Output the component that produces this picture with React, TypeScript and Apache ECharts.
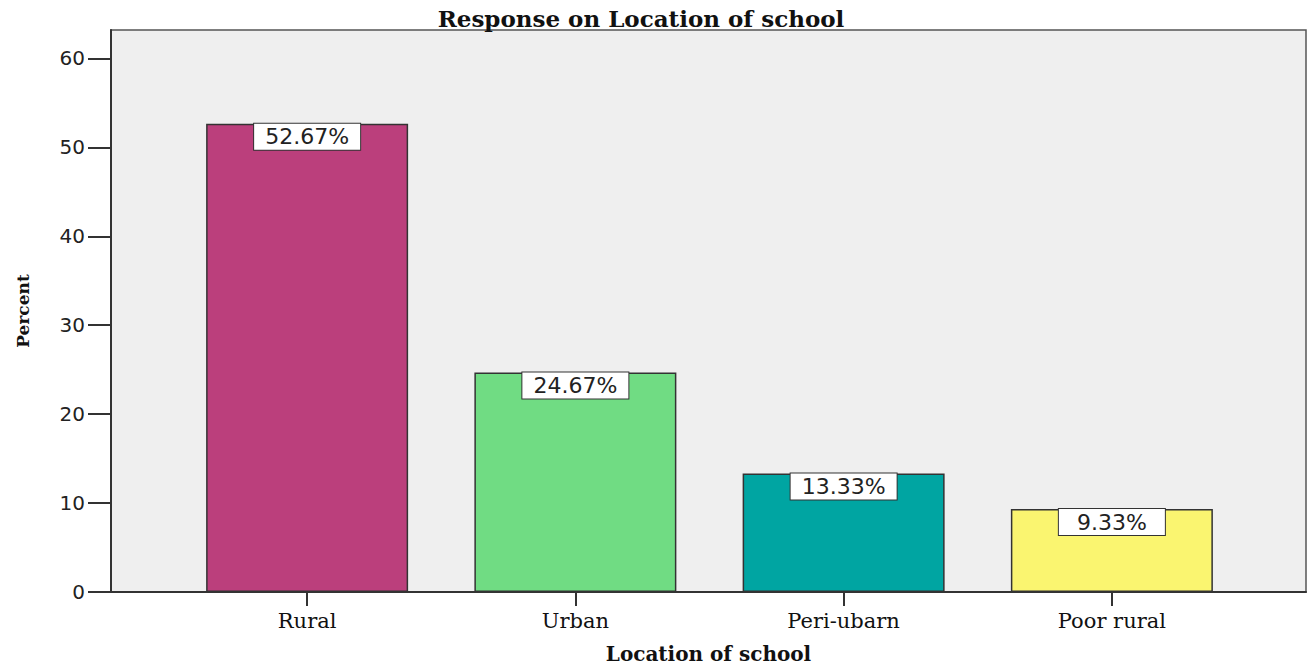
import React, { useEffect, useRef } from "react";
import * as echarts from "echarts";

const titleText = "Response on Location of school";
const xAxisTitle = "Location of school";
const yAxisTitle = "Percent";
const categories = ["Rural", "Urban", "Peri-ubarn", "Poor rural"];
const percents = [52.67, 24.67, 13.33, 9.33];
const barColors = ["#bb3f7c", "#70dc83", "#00a5a2", "#faf570"];
const yTicks = [0, 10, 20, 30, 40, 50, 60];
const yMax = 63.2;

export default function App() {
  const ref = useRef<HTMLDivElement>(null);
  useEffect(() => {
    if (!ref.current) return;
    const chart = echarts.init(ref.current, null, { renderer: "svg" });
    const serif = "DejaVu Serif";
    const sans = "DejaVu Sans";
    chart.setOption({
      animation: false,
      backgroundColor: "#ffffff",
      graphic: [
        {
          type: "text",
          x: 641,
          y: 7,
          style: {
            text: titleText,
            fontFamily: serif,
            fontWeight: "bold",
            fontSize: 23,
            fill: "#111",
            textAlign: "center",
          },
        },
      ],
      grid: [
        {
          left: 111,
          top: 30,
          width: 1195,
          height: 562,
          show: true,
          backgroundColor: "#efefef",
          borderColor: "#555",
          borderWidth: 1.5,
          containLabel: false,
          outerBoundsMode: "none",
        },
        {
          left: 173,
          top: 30,
          width: 1073,
          height: 562,
          containLabel: false,
          outerBoundsMode: "none",
        },
      ],
      xAxis: [
        {
          type: "category",
          gridIndex: 0,
          data: [""],
          axisLine: { show: true, lineStyle: { color: "#333", width: 2 } },
          axisTick: { show: false },
          axisLabel: { show: false },
          name: xAxisTitle,
          nameLocation: "middle",
          nameGap: 52,
          nameTextStyle: {
            fontFamily: serif,
            fontWeight: "bold",
            fontSize: 20,
            color: "#111",
          },
        },
        {
          type: "category",
          gridIndex: 1,
          data: categories,
          axisLine: { show: false },
          axisTick: {
            show: true,
            alignWithLabel: true,
            length: 14,
            lineStyle: { color: "#333", width: 2 },
          },
          axisLabel: {
            fontFamily: serif,
            fontSize: 21,
            color: "#111",
            margin: 18,
          },
        },
      ],
      yAxis: [
        {
          type: "value",
          gridIndex: 0,
          min: 0,
          max: yMax,
          interval: 10,
          axisLine: { show: true, lineStyle: { color: "#333", width: 2 } },
          axisTick: {
            show: true,
            length: 23,
            lineStyle: { color: "#333", width: 2 },
            customValues: yTicks,
          },
          axisLabel: {
            fontFamily: sans,
            fontSize: 20,
            color: "#222",
            margin: 26,
            customValues: yTicks,
          },
          splitLine: { show: false },
          name: yAxisTitle,
          nameLocation: "middle",
          nameGap: 80,
          nameRotate: 90,
          nameTextStyle: {
            fontFamily: serif,
            fontWeight: "bold",
            fontSize: 17,
            color: "#111",
          },
        },
        {
          type: "value",
          gridIndex: 1,
          min: 0,
          max: yMax,
          show: false,
          splitLine: { show: false },
        },
      ],
      series: [
        {
          type: "bar",
          xAxisIndex: 1,
          yAxisIndex: 1,
          barWidth: 202,
          data: percents.map((v, i) => ({
            value: v,
            itemStyle: { color: barColors[i] },
          })),
          itemStyle: { borderColor: "#333", borderWidth: 1.5 },
          label: {
            show: true,
            position: "insideTop",
            distance: 0,
            formatter: (p: any) => `${Number(p.value).toFixed(2)}%`,
            fontFamily: sans,
            fontSize: 22,
            color: "#222",
            backgroundColor: "#ffffff",
            borderColor: "#333",
            borderWidth: 1,
            padding: [2, 2, 2, 2],
            lineHeight: 22,
            width: 102,
            align: "center",
          },
        },
      ],
    });
    return () => chart.dispose();
  }, []);
  return (
    <div
      ref={ref}
      style={{ position: "absolute", left: 0, top: 0, width: 1309, height: 666 }}
    />
  );
}
